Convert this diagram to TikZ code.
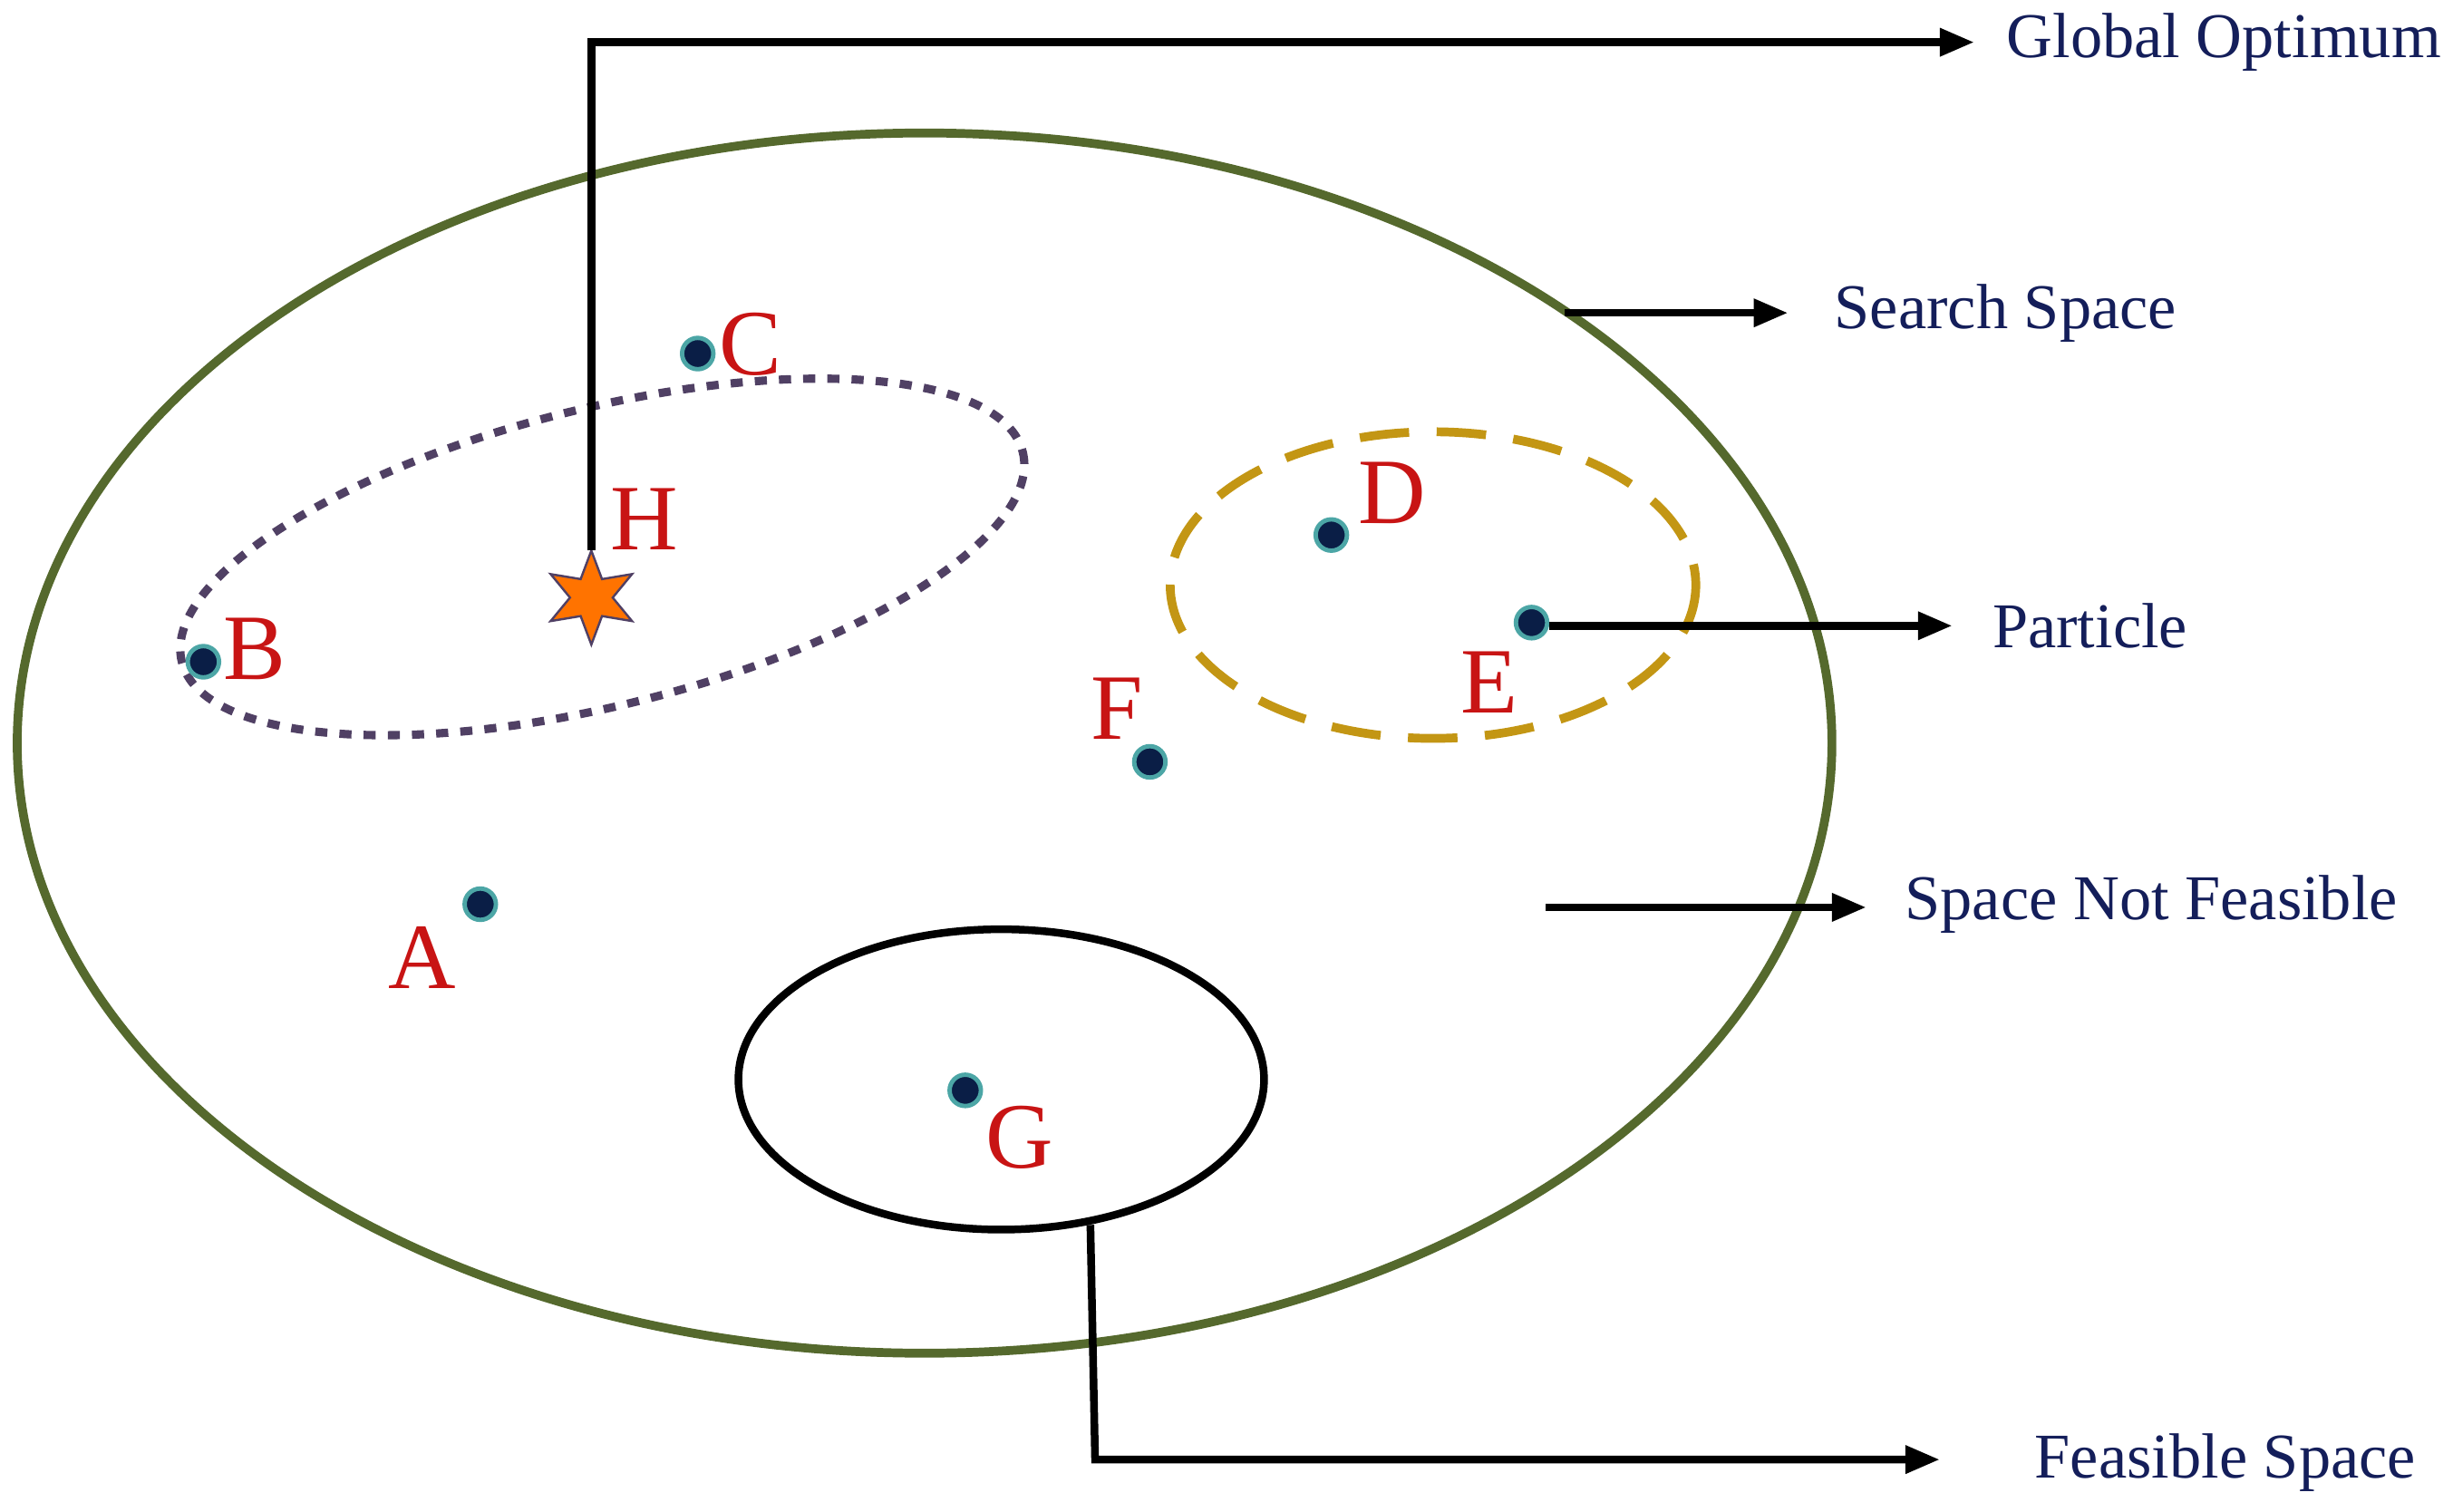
\documentclass[tikz,border=0pt]{standalone}
\usepackage{fontspec}
\setmainfont{Liberation Serif}
\usetikzlibrary{arrows.meta,shapes.geometric}
\definecolor{olive}{RGB}{85,105,45}
\definecolor{purp}{RGB}{80,64,100}
\definecolor{gold}{RGB}{195,150,20}
\definecolor{navy}{RGB}{20,30,90}
\definecolor{dotc}{RGB}{10,30,70}
\definecolor{lbl}{RGB}{200,20,20}
\begin{document}
\begin{tikzpicture}[x=0.01cm,y=-0.01cm,
  dot/.style={circle,fill=dotc,draw=teal!70,line width=0.8pt,inner sep=0pt,minimum size=0.2cm},
  lab/.style={text=lbl,font=\fontsize{17}{17}\selectfont,inner sep=0pt},
  txt/.style={text=navy,font=\fontsize{11.6}{11.6}\selectfont,anchor=west,inner sep=0pt},
  arr/.style={line width=1.4pt,-{Triangle[length=0.22cm,width=0.17cm]}}]
\useasboundingbox (0,0) rectangle (1568,966);
\draw[olive,line width=1.6pt] (591,475) ellipse [x radius=580,y radius=390];
\draw[purp,line width=1.5pt,dash pattern=on 2.2pt off 2.2pt] (385,356) ellipse [x radius=277,y radius=95,rotate=14];
\draw[gold,line width=1.6pt,dash pattern=on 9pt off 5pt] (916,374) ellipse [x radius=168,y radius=98];
\draw[black,line width=1.4pt] (640,690) ellipse [x radius=168,y radius=96];
\node[dot] (A) at (307,578) {};
\node[dot] (B) at (130,423) {};
\node[dot] (C) at (446,226) {};
\node[dot] (D) at (851,342) {};
\node[dot] (E) at (979,398) {};
\node[dot] (F) at (735,487) {};
\node[dot] (G) at (617,697) {};
\node[lab] at (270,612) {A};
\node[lab] at (163,415) {B};
\node[lab] at (480,220) {C};
\node[lab] at (890,315) {D};
\node[lab] at (952,436) {E};
\node[lab] at (714,453) {F};
\node[lab] at (652,727) {G};
\node[lab] at (412,332) {H};
\node[star,star points=6,star point ratio=2.2,fill=orange!90!red,draw=purp,line width=0.4pt,minimum size=0.6cm,inner sep=0pt] (H) at (378,382) {};
\node[txt] (go) at (1282,27) {Global Optimum};
\node[txt] (ss) at (1172,200) {Search Space};
\node[txt] (pa) at (1273,400) {Particle};
\node[txt] (nf) at (1217,578) {Space Not Feasible};
\node[txt] (fs) at (1300,935) {Feasible Space};
\coordinate (h0) at (378,352);
\coordinate (h1) at (378,27);
\coordinate (h2) at (1262,27);
\draw[arr] (h0) -- (h1) -- (h2);
\coordinate (s0) at (1000,200); \coordinate (s1) at (1143,200);
\draw[arr] (s0) -- (s1);
\coordinate (p0) at (990,400); \coordinate (p1) at (1248,400);
\draw[arr] (p0) -- (p1);
\coordinate (n0) at (988,580); \coordinate (n1) at (1193,580);
\draw[arr] (n0) -- (n1);
\coordinate (f0) at (697,783); \coordinate (f1) at (700,933); \coordinate (f2) at (1240,933);
\draw[arr] (f0) -- (f1) -- (f2);
\end{tikzpicture}
\end{document}
